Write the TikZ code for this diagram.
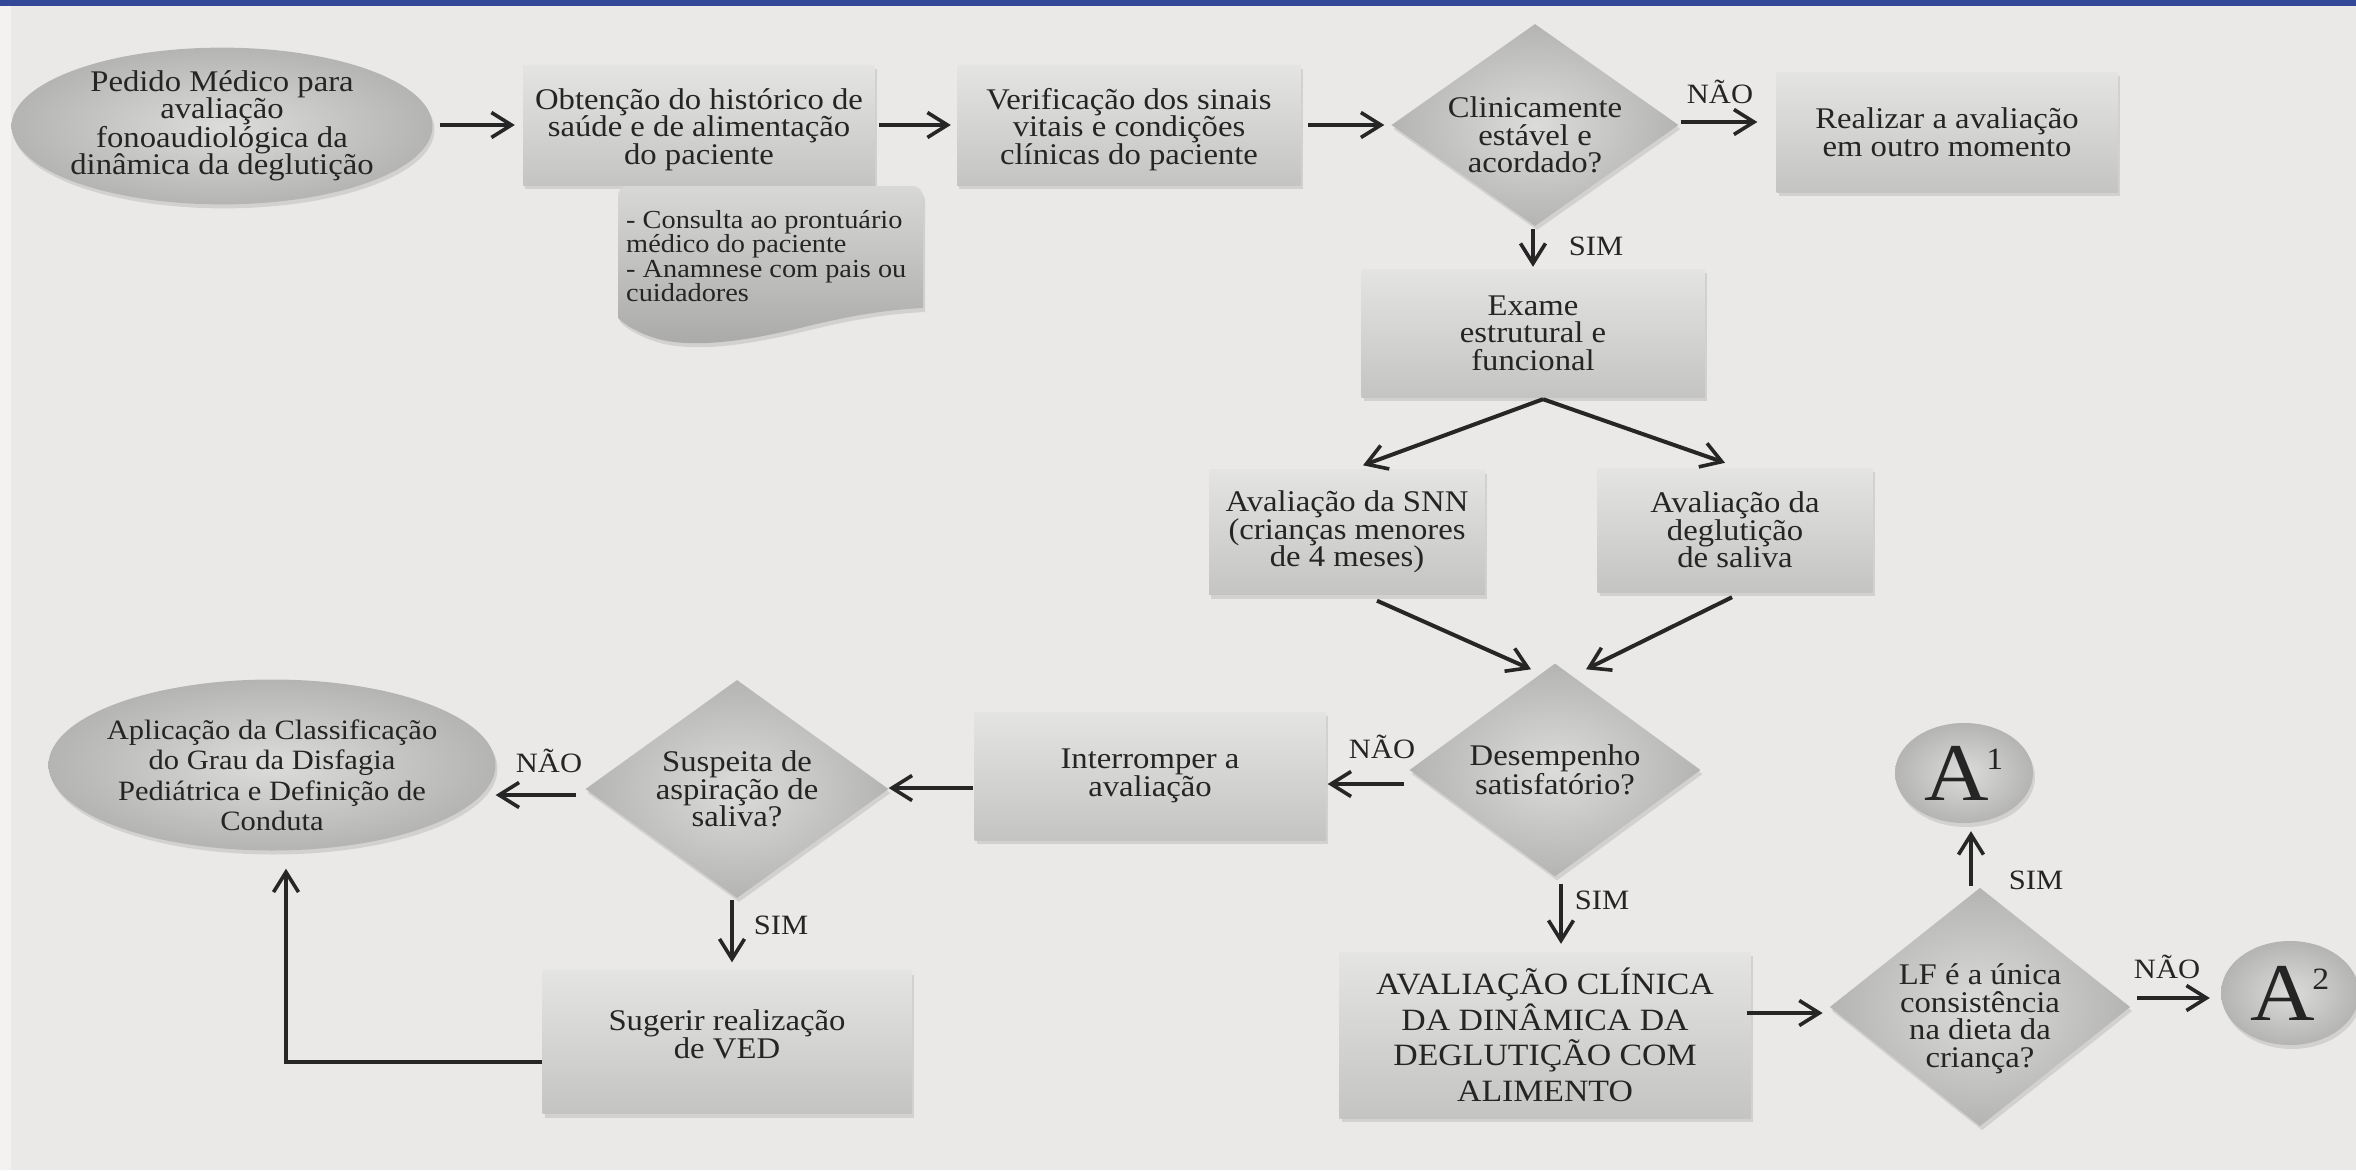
\documentclass[tikz,border=0pt]{standalone}
\usepackage{fontspec}
\setmainfont{Liberation Serif}[FakeStretch=1.09]
\usetikzlibrary{shapes.geometric,arrows.meta,shadows,calc}
\definecolor{bgc}{HTML}{EAE9E7}
\definecolor{barc}{HTML}{34489A}
\definecolor{boxtop}{HTML}{E4E4E3}
\definecolor{boxbot}{HTML}{C4C4C3}
\definecolor{shin}{HTML}{DCDCDB}
\definecolor{shout}{HTML}{B4B4B3}
\definecolor{notetop}{HTML}{D8D8D7}
\definecolor{notebot}{HTML}{A9A9A8}
\definecolor{lnc}{HTML}{262626}
\definecolor{txc}{HTML}{252525}
\newcommand\fmain{\fontsize{30}{27.5}\selectfont}
\newcommand\fnote{\fontsize{26}{24.2}\selectfont}
\newcommand\fbig{\fontsize{31}{35.5}\selectfont}
\newcommand\fapl{\fontsize{28}{30.5}\selectfont}
\newcommand\flab{\fontsize{28}{28}\selectfont}
\newcommand\bigA[1]{{\fontsize{82}{82}\selectfont A}\kern-3pt\raisebox{31pt}{\fontsize{31}{31}\selectfont #1}}
\tikzset{
  shad/.style={drop shadow={shadow xshift=2pt,shadow yshift=-4pt,opacity=0.22}},
  box/.style={rectangle,inner sep=0pt,align=center,text=txc,font=\fmain,
    top color=boxtop,bottom color=boxbot,shad},
  dia/.style={diamond,inner sep=0pt,align=center,text=txc,font=\fmain,
    inner color=shin,outer color=shout,shad},
  ell/.style={ellipse,inner sep=0pt,align=center,text=txc,font=\fmain,
    inner color=shin,outer color=shout,shad},
  lab/.style={inner sep=0pt,text=txc,font=\flab},
  arr/.style={draw=lnc,line width=4pt,
    -{Straight Barb[length=20pt,width=25pt,line width=3.6pt]}},
}
\begin{document}
\begin{tikzpicture}[x=1pt,y=-1pt]
\useasboundingbox (0,0) rectangle (2356,1170);
\fill[bgc] (0,0) rectangle (2356,1170);
\fill[white,opacity=0.45] (0,0) rectangle (11,1170);
\fill[barc] (0,0) rectangle (2356,6);

% top row
\node[ell,minimum width=421,minimum height=152,inner xsep=-6pt] (e1) at (222,126)
  {Pedido Médico para\\avaliação\\fonoaudiológica da\\dinâmica da deglutição};
\node[box,minimum width=352,minimum height=120] (b2) at (699,125)
  {\rule{0pt}{30pt}Obtenção do histórico de\\saúde e de alimentação\\do paciente};
\path[top color=notetop,bottom color=notebot,shad]
  (618,198) .. controls (618,190) and (621,186) .. (629,186) -- (911,186)
  .. controls (919,186) and (923,190) .. (923,199) -- (923,308)
  .. controls (880,310) and (840,318) .. (800,328)
  .. controls (750,340) and (700,348) .. (662,340)
  .. controls (642,335) and (626,326) .. (618,318) -- cycle;
\node[inner sep=0pt,align=left,text=txc,font=\fnote,anchor=west] (note) at (626,256)
  {- Consulta ao prontuário\\médico do paciente\\- Anamnese com pais ou\\cuidadores};
\node[box,minimum width=344,minimum height=120] (b3) at (1129,125)
  {\rule{0pt}{30pt}Verificação dos sinais\\vitais e condições\\clínicas do paciente};
\node[dia,minimum width=287,minimum height=202,shape aspect=1.42,inner ysep=-10pt] (d1) at (1535,125)
  {\rule{0pt}{40.5pt}Clinicamente\\estável e\\acordado?};
\node[box,minimum width=341,minimum height=120] (re) at (1947,132)
  {Realizar a avaliação\\em outro momento};
\node[box,minimum width=343,minimum height=128] (ex) at (1533,333)
  {Exame\\estrutural e\\funcional};
\node[box,minimum width=276,minimum height=125] (snn) at (1347,532)
  {Avaliação da SNN\\(crianças menores\\de 4 meses)};
\node[box,minimum width=275,minimum height=124] (sal) at (1735,530)
  {Avaliação da\\deglutição\\de saliva};
\node[dia,minimum width=291,minimum height=213,shape aspect=1.37] (des) at (1555,770)
  {Desempenho\\satisfatório?};
\node[box,minimum width=351,minimum height=128] (int) at (1150,776)
  {Interromper a\\avaliação};
\node[dia,minimum width=303,minimum height=218,shape aspect=1.39] (sus) at (737,789)
  {Suspeita de\\aspiração de\\saliva?};
\node[ell,font=\fapl,minimum width=447,minimum height=171,inner xsep=-9pt,inner ysep=-12pt] (apl) at (272,765)
  {\rule{0pt}{40pt}Aplicação da Classificação\\do Grau da Disfagia\\Pediátrica e Definição de\\Conduta};
\node[box,minimum width=369,minimum height=143] (sug) at (727,1042)
  {Sugerir realização\\de VED\rule[-16pt]{0pt}{16pt}};
\node[box,font=\fbig,minimum width=411,minimum height=166] (ac) at (1545,1035)
  {AVALIAÇÃO CLÍNICA\\DA DINÂMICA DA\\DEGLUTIÇÃO COM\\ALIMENTO};
\node[dia,minimum width=293,minimum height=232,shape aspect=1.26,inner ysep=-12pt] (lf) at (1980,1007)
  {\rule{0pt}{44.5pt}LF é a única\\consistência\\na dieta da\\criança?};
\node[ell,minimum width=138,minimum height=100] (a1) at (1964,773) {\bigA{1}};
\node[ell,minimum width=138,minimum height=104] (a2) at (2290,993) {\bigA{2}};

% labels
\node[lab] (l1) at (1720,92) {NÃO};
\node[lab] (l2) at (1596,246) {SIM};
\node[lab] (l3) at (1382,747) {NÃO};
\node[lab] (l4) at (549,761) {NÃO};
\node[lab] (l5) at (781,925) {SIM};
\node[lab] (l6) at (1602,900) {SIM};
\node[lab] (l7) at (2036,880) {SIM};
\node[lab] (l8) at (2167,967) {NÃO};

% connectors
\draw[arr] ($(e1.east)+(7,-1)$) -- ($(b2.west)+(-8,0)$);
\draw[arr] ($(b2.east)+(4,0)$) -- ($(b3.west)+(-6,0)$);
\draw[arr] ($(b3.east)+(7,0)$) -- ($(d1.west)+(-7,0)$);
\draw[arr] ($(d1.east)+(2,-3)$) -- ($(re.west)+(-19,-10)$);
\draw[arr] ($(d1.south)+(-2,3)$) -- ($(ex.north)+(0,-2)$);
\draw[arr] ($(ex.south)+(10,2)$) -- ($(snn.north)+(16,-4)$);
\draw[arr] ($(ex.south)+(10,2)$) -- ($(sal.north)+(-10,-5)$);
\draw[arr] ($(snn.south)+(30,6)$) -- ($(des.north)+(-24,6)$);
\draw[arr] ($(sal.south)+(-3,5)$) -- ($(des.north)+(31,6)$);
\draw[arr] ($(des.west)+(-5,14)$) -- ($(int.east)+(2,8)$);
\draw[arr] ($(int.west)+(-1,12)$) -- ($(sus.east)+(0,-1)$);
\draw[arr] ($(sus.west)+(-9,6)$) -- ($(apl.east)+(0,30)$);
\draw[arr] ($(sus.south)+(-5,2)$) -- ($(sug.north)+(5,-8)$);
\draw[arr] ($(sug.west)+(0,20)$) -| ($(apl.south)+(14,18)$);
\draw[arr] ($(des.south)+(6,7)$) -- ($(ac.north)+(16,-8)$);
\draw[arr] ($(ac.east)+(-4,-22)$) -- ($(lf.west)+(-7,6)$);
\draw[arr] ($(lf.north)+(-9,-2)$) -- ($(a1.south)+(7,8)$);
\draw[arr] ($(lf.east)+(7,-9)$) -- ($(a2.west)+(-11,5)$);
\end{tikzpicture}
\end{document}
